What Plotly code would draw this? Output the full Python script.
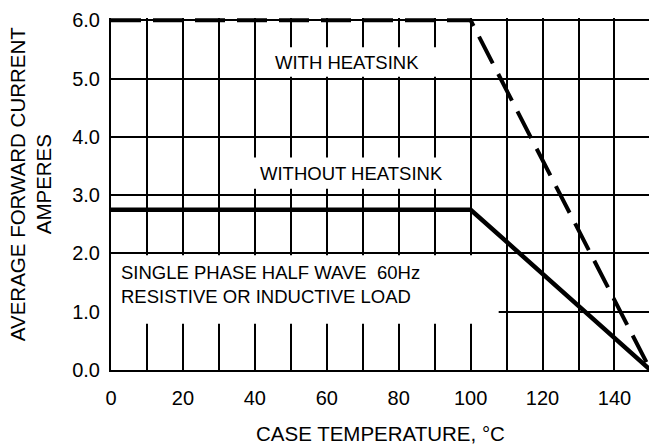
import plotly.graph_objects as go

# ---- data ----
case_temp = [0, 100, 150]
with_heatsink = [6.0, 6.0, 0.0]
without_heatsink = [2.75, 2.75, 0.0]

x_tick_vals = [0, 10, 20, 30, 40, 50, 60, 70, 80, 90, 100, 110, 120, 130, 140]
x_tick_text = ["0", "", "20", "", "40", "", "60", "", "80", "", "100", "", "120", "", "140"]
y_tick_vals = [0, 1, 2, 3, 4, 5, 6]
y_tick_text = ["0.0", "1.0", "2.0", "3.0", "4.0", "5.0", "6.0"]

FONT = "Liberation Sans, Arial, sans-serif"

fig = go.Figure()
fig.add_trace(go.Scatter(x=case_temp, y=with_heatsink, mode="lines",
                         line=dict(color="black", width=4, dash="30px,12px"),
                         showlegend=False, hoverinfo="skip"))
fig.add_trace(go.Scatter(x=case_temp, y=without_heatsink, mode="lines",
                         line=dict(color="black", width=4.5),
                         showlegend=False, hoverinfo="skip"))

# white masks that interrupt the grid behind the labels
masks = [
    dict(x0=44, x1=96, y0=5.03, y1=5.54),
    dict(x0=36, x1=96, y0=3.11, y1=3.646),
    dict(x0=0, x1=107.8, y0=0.795, y1=1.97),
]
for m in masks:
    fig.add_shape(type="rect", xref="x", yref="y", layer="between",
                  fillcolor="white", line=dict(width=0), **m)

ann_font = dict(family=FONT, size=18.5, color="black")
fig.add_annotation(x=65.6, y=5.28, text="WITH HEATSINK", showarrow=False,
                   xanchor="center", yanchor="middle", font=ann_font)
fig.add_annotation(x=66.9, y=3.37, text="WITHOUT HEATSINK", showarrow=False,
                   xanchor="center", yanchor="middle", font=ann_font)
fig.add_annotation(x=2.3, y=1.666, text="SINGLE PHASE HALF WAVE \u00a060Hz", showarrow=False,
                   xanchor="left", yanchor="middle", font=ann_font)
fig.add_annotation(x=2.3, y=1.258, text="RESISTIVE OR INDUCTIVE LOAD", showarrow=False,
                   xanchor="left", yanchor="middle", font=ann_font)

title_font = dict(family=FONT, size=20.5, color="black")
fig.add_annotation(xref="paper", yref="paper", x=0.5, y=-0.1818,
                   text="CASE TEMPERATURE, °C", showarrow=False,
                   xanchor="center", yanchor="middle", font=title_font)
fig.add_annotation(xref="paper", yref="paper", x=-0.1487, y=0.528,
                   text="AVERAGE FORWARD CURRENT<br>AMPERES", showarrow=False,
                   textangle=-90, xanchor="center", yanchor="middle", font=title_font)

fig.update_xaxes(range=[0, 149.6], tickmode="array", tickvals=x_tick_vals, ticktext=x_tick_text,
                 showgrid=True, gridcolor="black", gridwidth=2, zeroline=False,
                 showline=True, linecolor="black", linewidth=2,
                 ticks="outside", ticklen=9, tickcolor="rgba(0,0,0,0)",
                 tickfont=dict(family=FONT, size=20, color="black"), fixedrange=True)
fig.update_yaxes(range=[0, 6.04], tickmode="array", tickvals=y_tick_vals, ticktext=y_tick_text,
                 showgrid=True, gridcolor="black", gridwidth=2, zeroline=False,
                 showline=True, linecolor="black", linewidth=2,
                 ticks="outside", ticklen=5, tickcolor="rgba(0,0,0,0)",
                 tickfont=dict(family=FONT, size=20, color="black"), fixedrange=True)

fig.update_layout(width=649, height=444, margin=dict(l=111, r=0, t=18, b=74),
                  paper_bgcolor="white", plot_bgcolor="white",
                  font=dict(family=FONT, color="black"))

fig.write_html("out.html", config={"displayModeBar": False},
               post_script="document.body.style.margin='0';document.body.style.overflow='hidden';")
